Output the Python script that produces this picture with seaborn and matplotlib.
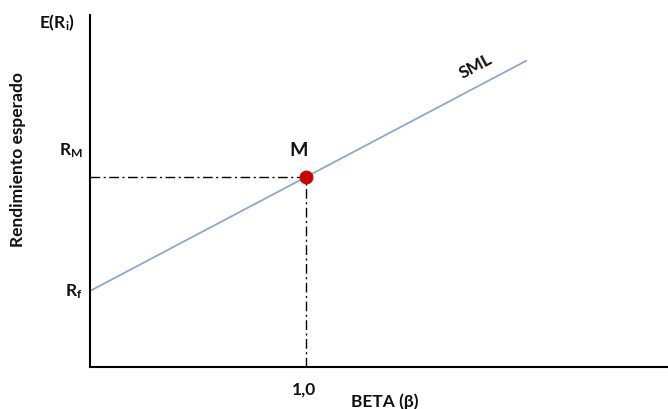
import numpy as np
import pandas as pd
import matplotlib
matplotlib.use("Agg")
import matplotlib.pyplot as plt
import seaborn as sns

# SML data (beta vs expected return)
rf = 4.0
rm = 10.0
beta_m = 1.0
beta_line = [0.0, 2.02]
ret_line = [rf + (rm - rf) * b for b in beta_line]

sns.set_style("white")
plt.rcParams["font.family"] = ["Lato", "DejaVu Sans"]
plt.rcParams["mathtext.fontset"] = "custom"
plt.rcParams["mathtext.rm"] = "Lato:bold"
plt.rcParams["mathtext.it"] = "Lato:bold"

W, H = 668, 410
fig = plt.figure(figsize=(W / 100, H / 100), dpi=100)
ax = fig.add_axes([90 / W, 42 / H, (W - 90) / W, (368 - 16) / H])

line_df = pd.DataFrame({"beta": beta_line, "ret": ret_line})
sns.lineplot(data=line_df, x="beta", y="ret", ax=ax, color="#8ca8cf", lw=1.3)

dash = (0, (7, 2.5, 1.5, 2.5))
ax.plot([0, beta_m], [rm, rm], color="black", lw=1.0, linestyle=dash)
ax.plot([beta_m, beta_m], [0, rm], color="black", lw=1.0, linestyle=dash)

pt = pd.DataFrame({"beta": [beta_m], "ret": [rm]})
sns.scatterplot(data=pt, x="beta", y="ret", ax=ax, color="#cc0000", s=85,
                edgecolor="#cc0000", zorder=5)

ax.set_xlim(0, (W - 90) / 216)
ax.set_ylim(0, (368 - 16) / 19.0)
ax.set_xticks([])
ax.set_yticks([])
ax.set_xlabel("")
ax.set_ylabel("")
for s in ["top", "right"]:
    ax.spines[s].set_visible(False)
for s in ["left", "bottom"]:
    ax.spines[s].set_color("black")
    ax.spines[s].set_linewidth(1.5)

def ftext(x, y, s, **kw):
    kw.setdefault("fontsize", 12)
    kw.setdefault("fontweight", "bold")
    kw.setdefault("color", "#111111")
    fig.text(x / W, 1 - y / H, s, ha="center", va="center", **kw)

ftext(57, 23, r"E(R$_\mathregular{i}$)", fontsize=12.5)
ftext(71, 151, r"R$_\mathregular{M}$", fontsize=12.5)
ftext(74, 292, r"R$_\mathregular{f}$", fontsize=12.5)
ftext(299, 151, "M", fontsize=14)
ftext(304, 390, "1,0", fontsize=12.5)
ftext(385, 402, "BETA (β)", fontsize=12.5)
ftext(476, 66, "SML", fontsize=12.5, rotation=28)
ftext(18, 160, "Rendimiento esperado", fontsize=12.5, rotation=90)

fig.savefig("out.png", dpi=100)
